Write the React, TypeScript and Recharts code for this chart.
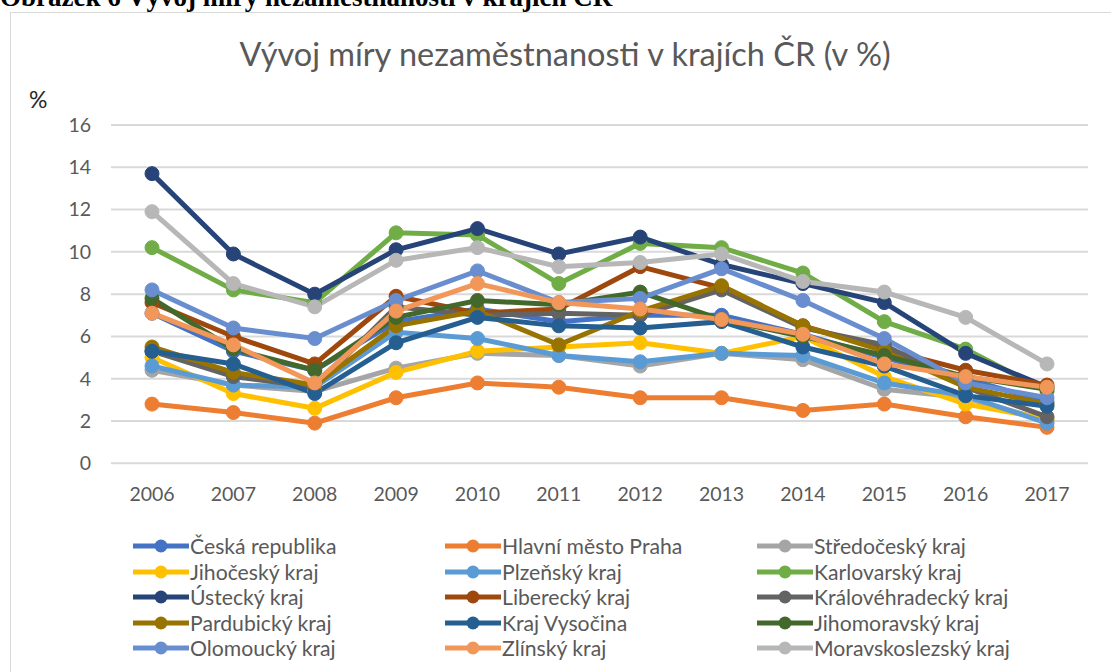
import React from 'react';
import { LineChart, Line, XAxis, YAxis, CartesianGrid, Legend } from 'recharts';

const years = ['2006', '2007', '2008', '2009', '2010', '2011', '2012', '2013', '2014', '2015', '2016', '2017'];
const yTicks = [0, 2, 4, 6, 8, 10, 12, 14, 16];

const ceskaRepublika = [7.1, 5.3, 4.4, 6.7, 7.3, 6.7, 7.0, 7.0, 6.1, 5.0, 4.0, 2.9];
const praha = [2.8, 2.4, 1.9, 3.1, 3.8, 3.6, 3.1, 3.1, 2.5, 2.8, 2.2, 1.7];
const stredocesky = [4.4, 3.7, 3.4, 4.5, 5.2, 5.1, 4.6, 5.2, 4.9, 3.5, 3.1, 2.0];
const jihocesky = [5.0, 3.3, 2.6, 4.3, 5.3, 5.5, 5.7, 5.2, 6.0, 4.1, 2.8, 2.1];
const plzensky = [4.6, 3.7, 3.6, 6.2, 5.9, 5.1, 4.8, 5.2, 5.1, 3.8, 3.2, 1.9];
const karlovarsky = [10.2, 8.2, 7.6, 10.9, 10.8, 8.5, 10.4, 10.2, 9.0, 6.7, 5.4, 3.4];
const ustecky = [13.7, 9.9, 8.0, 10.1, 11.1, 9.9, 10.7, 9.4, 8.5, 7.6, 5.2, 3.6];
const liberecky = [7.6, 6.0, 4.7, 7.9, 7.1, 7.3, 9.3, 8.3, 6.5, 5.4, 4.4, 3.7];
const kralovehradecky = [5.3, 4.1, 3.6, 7.4, 7.0, 7.1, 7.0, 8.2, 6.4, 5.6, 3.6, 2.2];
const pardubicky = [5.5, 4.3, 3.7, 6.5, 7.2, 5.6, 7.2, 8.4, 6.5, 5.3, 3.6, 2.8];
const vysocina = [5.3, 4.7, 3.3, 5.7, 6.9, 6.5, 6.4, 6.7, 5.5, 4.6, 3.2, 2.7];
const jihomoravsky = [7.8, 5.4, 4.4, 6.9, 7.7, 7.5, 8.1, 6.8, 6.0, 5.1, 4.1, 3.5];
const olomoucky = [8.2, 6.4, 5.9, 7.7, 9.1, 7.6, 7.8, 9.2, 7.7, 5.9, 3.8, 3.1];
const zlinsky = [7.1, 5.6, 3.8, 7.2, 8.5, 7.6, 7.3, 6.8, 6.1, 4.7, 4.1, 3.6];
const moravskoslezsky = [11.9, 8.5, 7.4, 9.6, 10.2, 9.3, 9.5, 9.9, 8.6, 8.1, 6.9, 4.7];

const seriesNames = [
  'Česká republika', 'Hlavní město Praha', 'Středočeský kraj',
  'Jihočeský kraj', 'Plzeňský kraj', 'Karlovarský kraj',
  'Ústecký kraj', 'Liberecký kraj', 'Královéhradecký kraj',
  'Pardubický kraj', 'Kraj Vysočina', 'Jihomoravský kraj',
  'Olomoucký kraj', 'Zlínský kraj', 'Moravskoslezský kraj',
];
const seriesValues = [
  ceskaRepublika, praha, stredocesky,
  jihocesky, plzensky, karlovarsky,
  ustecky, liberecky, kralovehradecky,
  pardubicky, vysocina, jihomoravsky,
  olomoucky, zlinsky, moravskoslezsky,
];
const seriesColors = [
  '#4472C4', '#ED7D31', '#A5A5A5',
  '#FFC000', '#5B9BD5', '#70AD47',
  '#264478', '#9E480E', '#636363',
  '#997300', '#255E91', '#43682B',
  '#698ED0', '#F1975A', '#B7B7B7',
];

const data = years.map((y, i) => {
  const row: Record<string, any> = { year: y };
  seriesNames.forEach((n, s) => { row['s' + s] = seriesValues[s][i]; });
  return row;
});

const FONT = 'Lato, "Open Sans", sans-serif';

const renderLegend = () => (
  <div style={{ position: 'relative', width: 1111, height: 140 }}>
    {seriesNames.map((name, i) => {
      const col = i % 3;
      const row = Math.floor(i / 3);
      const left = 133 + col * 312;
      const top = row * 25.5;
      return (
        <div key={name} style={{ position: 'absolute', left, top, height: 26, display: 'flex', alignItems: 'center' }}>
          <svg width={56} height={16} style={{ display: 'block' }}>
            <line x1={0} y1={8} x2={56} y2={8} stroke={seriesColors[i]} strokeWidth={5} />
            <circle cx={28} cy={8} r={6.5} fill={seriesColors[i]} />
          </svg>
          <span style={{ marginLeft: 1, fontFamily: FONT, fontSize: 21.2, color: '#595959', whiteSpace: 'nowrap', lineHeight: '26px' }}>{name}</span>
        </div>
      );
    })}
  </div>
);

export default function App() {
  return (
    <div style={{ position: 'absolute', left: 0, top: 0, width: 1111, height: 672, background: '#fff', overflow: 'hidden' }}>
      <div style={{ position: 'absolute', left: 0, top: -16, fontFamily: '"Liberation Serif", "Times New Roman", serif', fontWeight: 'bold', fontSize: 27, lineHeight: '27px', color: '#000', whiteSpace: 'nowrap' }}>
        Obrázek 6 Vývoj míry nezaměstnanosti v krajích ČR
      </div>
      <div style={{ position: 'absolute', left: 10, top: 12, width: 1110, height: 670, border: '1px solid #d9d9d9', boxSizing: 'border-box' }} />
      <div style={{ position: 'absolute', left: 10, width: 1110, top: 38, textAlign: 'center', fontFamily: FONT, fontSize: 32.5, lineHeight: '32px', color: '#595959', whiteSpace: 'nowrap' }}>
        Vývoj míry nezaměstnanosti v krajích ČR (v %)
      </div>
      <div style={{ position: 'absolute', left: 29, top: 88, fontFamily: FONT, fontSize: 23, lineHeight: '23px', color: '#262626' }}>%</div>
      <div style={{ position: 'absolute', left: 0, top: 0 }}>
        <LineChart width={1111} height={672} data={data} margin={{ top: 125, right: 23, left: 0, bottom: 178.7 }}>
          <CartesianGrid vertical={false} stroke="#d9d9d9" strokeWidth={2} />
          <XAxis
            dataKey="year"
            padding={{ left: 41, right: 41 }}
            axisLine={false}
            tickLine={false}
            tickSize={0}
            tickMargin={24}
            height={30}
            tick={{ fontFamily: FONT, fontSize: 19.5, fill: '#595959' }}
            interval={0}
          />
          <YAxis
            domain={[0, 16]}
            ticks={yTicks}
            width={111}
            axisLine={false}
            tickLine={false}
            tickSize={0}
            tickMargin={20}
            tick={{ fontFamily: FONT, fontSize: 19.5, fill: '#595959' }}
            interval={0}
          />
          <Legend
            layout="horizontal"
            verticalAlign="middle"
            align="center"
            content={renderLegend}
            wrapperStyle={{ position: 'absolute', left: 0, top: 533, width: 1111, height: 140 }}
          />
          {seriesNames.map((name, i) => (
            <Line
              key={name}
              type="linear"
              dataKey={'s' + i}
              name={name}
              stroke={seriesColors[i]}
              strokeWidth={5}
              dot={{ r: 7, fill: seriesColors[i], stroke: seriesColors[i], strokeWidth: 1 }}
              activeDot={false}
              isAnimationActive={false}
            />
          ))}
        </LineChart>
      </div>
    </div>
  );
}
